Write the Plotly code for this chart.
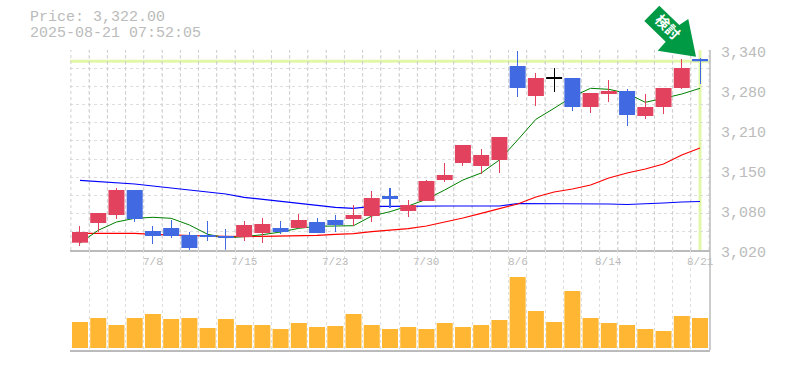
import plotly.graph_objects as go

dates = ["7/2","7/3","7/4","7/7","7/8","7/9","7/10","7/11","7/14","7/15","7/16","7/17","7/18","7/22","7/23","7/24","7/25","7/28","7/29","7/30","7/31","8/1","8/4","8/5","8/6","8/7","8/8","8/12","8/13","8/14","8/15","8/18","8/19","8/20","8/21"]
labelled = ["7/8","7/15","7/23","7/30","8/6","8/14","8/21"]
open_ = [3031.7,3063.2,3076,3116,3050.4,3055.2,3044,3044,3040.8,3040.8,3047.2,3055.2,3055.2,3064.8,3068,3069.6,3074.4,3106.4,3082.4,3098.4,3132,3159.2,3154.4,3164,3314.4,3266.4,3294.7,3295.2,3248.8,3269.6,3274.4,3234.4,3248.8,3279.2,3325.6]
close_ = [3048.8,3079.2,3116,3069.6,3042.4,3042.4,3023.2,3040.8,3039.7,3060,3061.6,3048.8,3068,3047.2,3060,3076,3103.2,3101.6,3092,3130.4,3140,3188,3172,3200.8,3279.2,3295.2,3294.7,3248.8,3271.2,3274.4,3236,3248.8,3279.2,3311.2,3322]
high_ = [3058.4,3079.2,3119.2,3116,3058.4,3068,3048.8,3066.4,3053.6,3066.4,3071.2,3066.4,3077.6,3071.2,3076,3092,3114.4,3119.2,3100,3132,3159.2,3188,3181.6,3200.8,3338.4,3303.2,3311.2,3295.2,3271.2,3292,3277.6,3269.6,3279.2,3325.6,3327.2]
low_ = [3026.4,3048.8,3069.6,3064.8,3029.6,3039.2,3020,3034.4,3020.4,3034.4,3031.2,3045.6,3055.2,3047.2,3048.8,3058.4,3064.8,3087.2,3072.8,3098.4,3128.8,3154.4,3141.6,3143.2,3264.8,3250.4,3272.8,3242.4,3239.2,3256.8,3218.4,3229.6,3237.6,3277.6,3285.6]
vol_ = [26,30,23,30,34,29,30,20,29,23,23,19,25,21,22,34,23,19,21,19,25,21,23,28,71,37,26,57,30,25,23,19,17,32,30]
ma_blue = [3131.5,3129.9,3128.3,3125.6,3122.4,3119.2,3116,3112.8,3109.6,3104.3,3101.1,3096.8,3094.7,3091.5,3088.3,3086.7,3089.9,3089.9,3090.4,3090.4,3090.4,3090.4,3090.4,3090.4,3094.4,3094.4,3093.6,3093.6,3093.6,3093.6,3092.8,3093.6,3095.2,3096.8,3097.6]
ma_red = [3046.7,3046.7,3046.7,3046.7,3045.1,3044,3042.9,3042.4,3041.9,3041.3,3041.9,3042.4,3043.5,3043.5,3045.1,3046.1,3049.3,3051.5,3054.1,3058.4,3064.3,3071.2,3078.7,3085.6,3093.6,3104.8,3112.8,3117.6,3124,3135.2,3143.2,3149.6,3157.6,3172,3183.2]
ma_green = [3031.2,3051.5,3064.8,3070.7,3072.3,3070.7,3060,3045.1,3039.7,3041.3,3044.5,3048.8,3054.7,3057.9,3058.4,3058.9,3074.4,3081.3,3090.4,3101.1,3116,3132,3143.2,3164,3196,3229.1,3246.7,3265.3,3278.7,3277.1,3270.7,3256.3,3262.7,3269.6,3278.7]
price_now = 3322
price_stamp = "2025-08-21 07:52:05"
axis_labels = ["3,340","3,280","3,210","3,150","3,080","3,020"]
axis_vals = [3340,3276,3212,3148,3084,3020]

RED, BLUE, BLACK = "#e3425f", "#4169e1", "#000000"
TEXT = "#bbbbbb"
GRID = "#dddddd"
YEL = "#e3f7a9"
W, H = 785, 370
L, R, T, B = 70, 710, 50, 350
N = len(dates)
idx = list(range(N))
xr = [-0.548, N - 1 + 0.548]
yr = [3020, 3340]
def cl(o, c): return BLACK if abs(o-c) < 0.01 else (RED if c > o else BLUE)
colors = [cl(o, c) for o, c in zip(open_, close_)]

DASH = "3px,3px"
fig = go.Figure()
# vertical grid of the price panel, on the candle boundaries
grid_x, grid_y = [], []
for k in idx + [N]:
    grid_x += [k - 0.5, k - 0.5, None]
    grid_y += [yr[0], yr[1], None]
fig.add_trace(go.Scatter(x=grid_x, y=grid_y, mode="lines", line=dict(color="#cfcfcf", width=1, dash=DASH), yaxis="y", xaxis="x", hoverinfo="skip"))
for vals, col, w in [(ma_blue, "#0000ff", 1.2), (ma_red, "#ff0000", 1.2), (ma_green, "#008000", 1.0)]:
    fig.add_trace(go.Scatter(x=idx, y=vals, mode="lines", line=dict(color=col, width=w), yaxis="y", xaxis="x", hoverinfo="skip"))
fig.add_trace(go.Bar(x=idx, y=[h-l for h, l in zip(high_, low_)], base=low_, width=0.001, marker=dict(color=colors, line=dict(width=0)), yaxis="y3", xaxis="x3"))
body = [max(abs(o-c), 1.6) for o, c in zip(open_, close_)]
fig.add_trace(go.Bar(x=idx, y=body, base=[min(o, c) for o, c in zip(open_, close_)], width=0.877, marker=dict(color=colors, line=dict(width=0)), yaxis="y3", xaxis="x3"))
fig.add_trace(go.Bar(x=idx, y=vol_, width=0.877, marker=dict(color="#ffb733", line=dict(width=0)), yaxis="y2", xaxis="x2"))

gridx = dict(showgrid=True, gridcolor=GRID, griddash=DASH, gridwidth=1, tick0=-0.5, dtick=1, ticklen=0)
common = dict(range=xr, showgrid=False, zeroline=False, ticks="", minor=gridx, showline=True, linecolor=TEXT, linewidth=1.5, showticklabels=False)
def px_x(p): return (p-L)/(R-L)
def px_y(p): return (B-p)/(B-T)

shapes = [
    dict(type="line", xref="x", yref="y", x0=xr[0], x1=xr[1], y0=price_now, y1=price_now, line=dict(color=YEL, width=3), layer="below"),
    dict(type="line", xref="x", yref="y", x0=N-1, x1=N-1, y0=yr[0], y1=yr[1], line=dict(color=YEL, width=3), layer="below"),
    dict(type="line", xref="paper", yref="paper", x0=1, x1=1, y0=0, y1=1, line=dict(color=TEXT, width=1.5)),
]
arrow_pts = [(659.3,5.7),(679.3,25),(688.3,19),(696,56.7),(657.7,50.7),(665.7,41.7),(644.3,21)]
path = "M" + " L".join(f"{px_x(a)},{px_y(b)}" for a, b in arrow_pts) + " Z"
shapes.append(dict(type="path", xref="paper", yref="paper", path=path, fillcolor="#009944", line=dict(width=0), layer="above"))

mono = "Liberation Mono"
ann = [
    dict(xref="paper", yref="paper", x=px_x(29), y=px_y(18), text=f"Price: {price_now:,.2f}", showarrow=False, xanchor="left", yanchor="middle", font=dict(family=mono, size=15, color=TEXT), borderpad=0),
    dict(xref="paper", yref="paper", x=px_x(29), y=px_y(33), text=price_stamp, showarrow=False, xanchor="left", yanchor="middle", font=dict(family=mono, size=15, color=TEXT), borderpad=0),
    dict(xref="paper", yref="paper", x=px_x(667.5), y=px_y(26.5), text="<b>検討</b>", textangle=45, showarrow=False, xanchor="center", yanchor="middle", font=dict(family="Noto Sans CJK JP", size=14, color="#ffffff"), borderpad=0),
]
for t, v in zip(axis_labels, axis_vals):
    ann.append(dict(xref="paper", yref="y", x=px_x(720), y=v, yshift=-3, text=t, showarrow=False, xanchor="left", yanchor="middle", font=dict(family=mono, size=15, color=TEXT), borderpad=0))
for d in labelled:
    ann.append(dict(xref="x", yref="paper", x=dates.index(d), y=px_y(262), text=d, showarrow=False, xanchor="center", yanchor="middle", font=dict(family=mono, size=11, color=TEXT), borderpad=0))

fig.update_layout(
    width=W, height=H, margin=dict(l=L, r=W-R, t=T, b=H-B, pad=0),
    autosize=False, showlegend=False, barmode="overlay", plot_bgcolor="#ffffff", paper_bgcolor="#ffffff",
    xaxis=dict(**common, domain=[0,1], anchor="y"),
    xaxis2=dict(**common, domain=[0,1], anchor="y2"),
    xaxis3=dict(range=xr, overlaying="x", anchor="y3", visible=False),
    yaxis=dict(domain=[1/3,1], range=yr, anchor="x", showgrid=False, zeroline=False, showticklabels=False, ticks="", showline=False,
               minor=dict(showgrid=True, gridcolor=GRID, griddash=DASH, gridwidth=1, tick0=3020, dtick=320/11, ticklen=0)),
    yaxis3=dict(range=yr, overlaying="y", anchor="x3", visible=False),
    yaxis2=dict(domain=[0,1/3], range=[-2,98], anchor="x2", showgrid=False, zeroline=False, showticklabels=False, ticks="", showline=False),
    shapes=shapes, annotations=ann,
)
fig.write_html("out.html", config={"displayModeBar": False}, post_script="document.body.style.margin='0';document.documentElement.style.margin='0';")
